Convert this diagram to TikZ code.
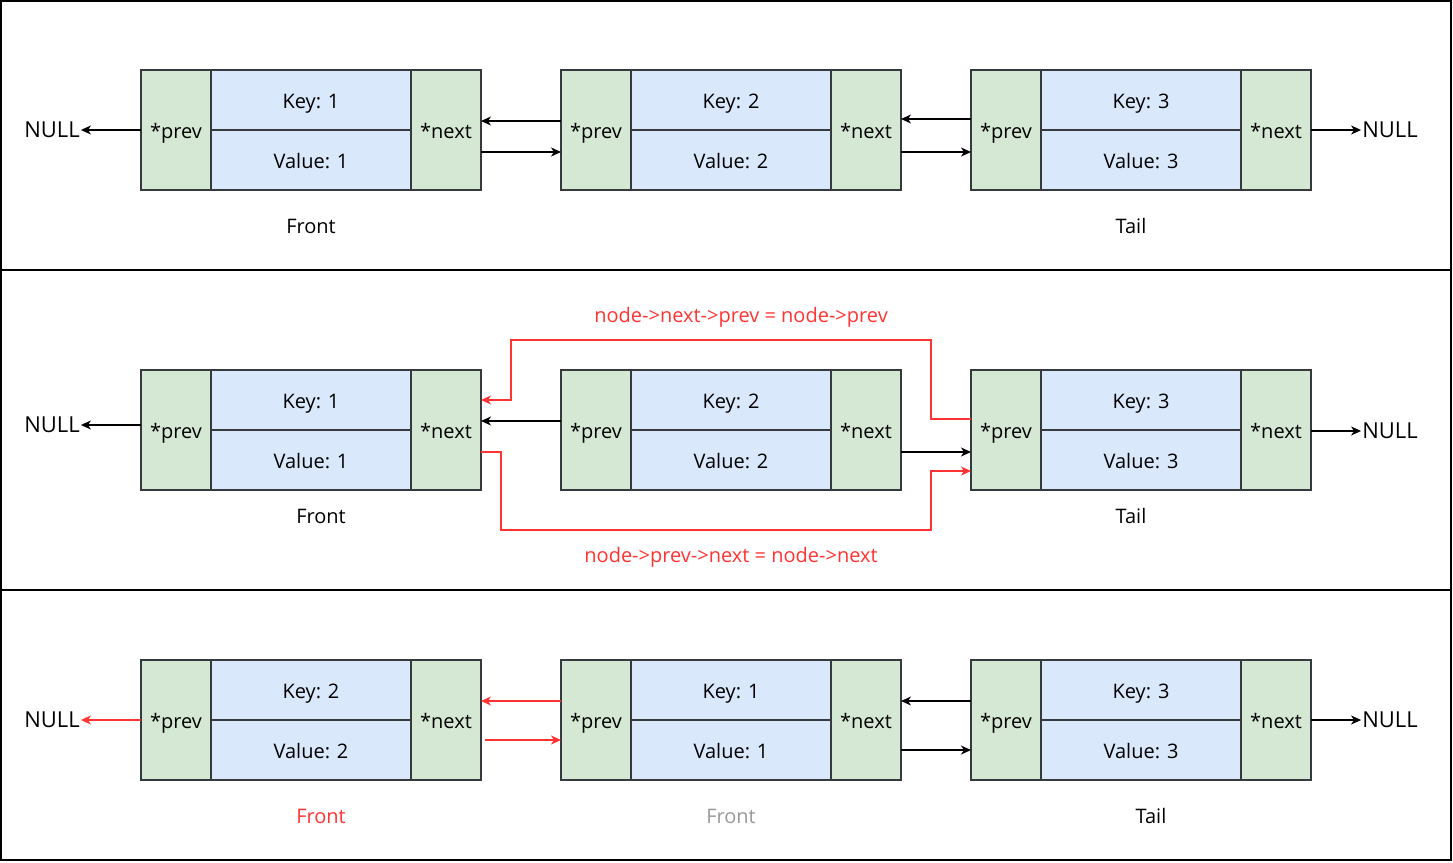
\documentclass[tikz,border=0pt]{standalone}
\usepackage{fontspec}
\setmainfont{Open Sans}
\usetikzlibrary{arrows.meta,positioning}
\definecolor{ptrgreen}{HTML}{D5E8D4}
\definecolor{keyblue}{HTML}{DAE8FC}
\definecolor{linkred}{HTML}{FF3333}
\definecolor{edgegray}{HTML}{36393D}
\tikzset{
  cell/.style = {draw=edgegray, line width=1.3pt, inner sep=0pt, outer sep=0pt,
    anchor=north west, text height=16pt, text depth=0pt,
    font=\fontsize{20}{24}\selectfont},
  ptr_n/.style = {cell, fill=ptrgreen, minimum width=70pt, minimum height=120pt},
  kv_n/.style = {cell, fill=keyblue, minimum width=200pt, minimum height=60pt},
  null_n/.style = {inner sep=1pt, font=\fontsize{22}{26}\selectfont},
  tag_n/.style = {font=\fontsize{20}{24}\selectfont},
  panel/.style = {draw=black, line width=1.3pt},
  link/.style = {->, line width=1.3pt},
  redlink/.style = {link, draw=linkred},
}

\begin{document}
\begin{tikzpicture}[x=1pt,y=-1pt,>={Stealth[length=10pt,width=9pt,inset=3pt]}]
\useasboundingbox (0,0) rectangle (1453,862);
\draw[panel] (1,1) rectangle (1451,270);
\draw[panel] (1,270) rectangle (1451,590);
\draw[panel] (1,590) rectangle (1451,860);

% list nodes of the three panels
\foreach \p/\y/\ka/\kb/\kc in {1/70/1/2/3, 2/370/1/2/3, 3/660/2/1/3}{
  \foreach \c/\x/\k in {a/141/\ka, b/561/\kb, c/971/\kc}{
    \node [ptr_n] (n\p\c-prev) at (\x,\y) {*prev};
    \node [kv_n] (n\p\c-key) at (n\p\c-prev.north east) {Key: \k};
    \node [kv_n] (n\p\c-val) at (n\p\c-key.south west) {Value: \k};
    \node [ptr_n] (n\p\c-next) at (n\p\c-key.north east) {*next};
  }
}

% NULL ends
\node [null_n] (null1l) at (52,130) {NULL};
\node [null_n] (null1r) at (1390,130) {NULL};
\node [null_n] (null2l) at (52,425) {NULL};
\node [null_n] (null2r) at (1390,431) {NULL};
\node [null_n] (null3l) at (52,720) {NULL};
\node [null_n] (null3r) at (1390,720) {NULL};

% top panel
\draw[link] (n1a-prev.west |- null1l.east) -- (null1l.east);
\draw[link] ([yshift=9pt]n1b-prev.west) -- ([yshift=9pt]n1a-next.east);
\draw[link] ([yshift=-22pt]n1a-next.east) -- ([yshift=-22pt]n1b-prev.west);
\draw[link] ([yshift=11pt]n1c-prev.west) -- ([yshift=11pt]n1b-next.east);
\draw[link] ([yshift=-22pt]n1b-next.east) -- ([yshift=-22pt]n1c-prev.west);
\draw[link] (n1c-next.east |- null1r.west) -- (null1r.west);
\node [tag_n] (front1) at (311,226) {Front};
\node [tag_n] (tail1) at (1131,226) {Tail};

% middle panel
\draw[link] (n2a-prev.west |- null2l.east) -- (null2l.east);
\draw[link] ([yshift=9pt]n2b-prev.west) -- ([yshift=9pt]n2a-next.east);
\draw[link] ([yshift=-22pt]n2b-next.east) -- ([yshift=-22pt]n2c-prev.west);
\draw[link] (n2c-next.east |- null2r.west) -- (null2r.west);
\draw[redlink] ([yshift=11pt]n2c-prev.west) -- ++(-40,0) -- ++(0,-79) -- ++(-420,0)
  |- ([yshift=30pt]n2a-next.east);
\draw[redlink] ([yshift=-22pt]n2a-next.east) -- ++(20,0) -- ++(0,78) -- ++(430,0)
  |- ([yshift=-41pt]n2c-prev.west);
\node [tag_n, text=linkred] (fix1) at (741,317) {node->next->prev = node->prev};
\node [tag_n, text=linkred] (fix2) at (731,557) {node->prev->next = node->next};
\node [tag_n] (front2) at (321,516) {Front};
\node [tag_n] (tail2) at (1131,516) {Tail};

% bottom panel
\draw[redlink] (n3a-prev.west |- null3l.east) -- (null3l.east);
\draw[redlink] ([yshift=19pt]n3b-prev.west) -- ([yshift=19pt]n3a-next.east);
\draw[redlink] ([xshift=4pt,yshift=-20pt]n3a-next.east) -- ([yshift=-20pt]n3b-prev.west);
\draw[link] ([yshift=19pt]n3c-prev.west) -- ([yshift=19pt]n3b-next.east);
\draw[link] ([yshift=-30pt]n3b-next.east) -- ([yshift=-30pt]n3c-prev.west);
\draw[link] (n3c-next.east |- null3r.west) -- (null3r.west);
\node [tag_n, text=linkred] (front3) at (321,816) {Front};
\node [tag_n, text=black!40] (oldfront3) at (731,816) {Front};
\node [tag_n] (tail3) at (1151,816) {Tail};
\end{tikzpicture}
\end{document}
